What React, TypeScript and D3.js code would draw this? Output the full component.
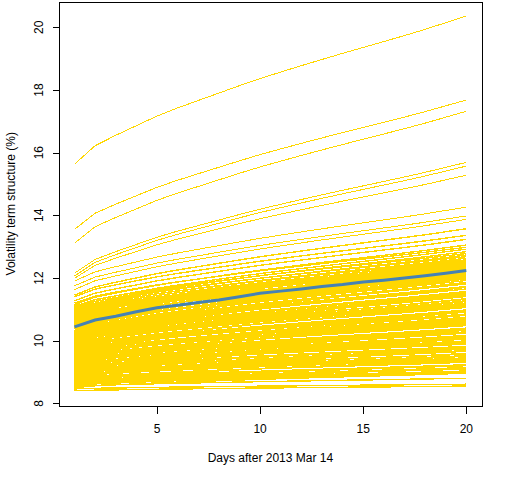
import React from "react";
import * as d3 from "d3";

// Days of the term structure
const days = [1, 2, 3, 4, 5, 6, 7, 8, 9, 10, 11, 12, 13, 14, 15, 16, 17, 18, 19, 20];

// Shape of the term structure (share of the day-1 -> day-20 move reached at each day)
const termProfile = [0, 0.125, 0.195, 0.26, 0.325, 0.38, 0.43, 0.48, 0.53, 0.578, 0.622, 0.665, 0.707, 0.748, 0.788, 0.828, 0.868, 0.91, 0.955, 1];

// Individual stock volatility on day 1 and day 20 (%)
const dayOneVol = [
  15.63, 13.55, 13.11, 12.15, 12.06, 11.99, 11.9, 11.75, 11.63, 11.45, 11.4, 11.27, 11.2, 11.15, 11.1, 11.07, 11.05, 11.02, 10.98, 10.97, 10.95, 10.92, 10.9, 10.87,
  10.85, 10.83, 10.81, 10.79, 10.77, 10.75, 10.73, 10.71, 10.69, 10.67, 10.65, 10.63, 10.61, 10.59, 10.57, 10.55, 10.53, 10.51, 10.49, 10.47, 10.45, 10.43, 10.41, 10.39, 10.37, 10.36,
  10.33, 10.31, 10.3, 10.28, 10.26, 10.25, 10.23, 10.21, 10.2, 10.18,
  10.16, 10.15, 10.13, 10.11, 10.1, 10.08, 10.06, 10.05, 10.03, 10.01,
  9.99, 9.98, 9.96, 9.94, 9.93, 9.91, 9.89, 9.88, 9.86, 9.84,
  9.83, 9.81, 9.79, 9.78, 9.76, 9.74, 9.73, 9.71, 9.69, 9.68,
  9.66, 9.64, 9.63, 9.61, 9.59, 9.58, 9.56, 9.54, 9.53, 9.51,
  9.49, 9.48, 9.46, 9.44, 9.43, 9.41, 9.39, 9.38, 9.36, 9.34,
  9.33, 9.31, 9.29, 9.28, 9.26, 9.24, 9.23, 9.21, 9.19, 9.18,
  9.16, 9.14, 9.13, 9.11, 9.09, 9.08, 9.06, 9.04, 9.03, 9.01,
  8.99, 8.98, 8.96, 8.94, 8.93, 8.91, 8.89, 8.88, 8.86, 8.84,
  8.83, 8.81, 8.79, 8.78, 8.76, 8.74, 8.73, 8.71, 8.69, 8.68,
  8.66, 8.65, 8.63, 8.62, 8.6,
  8.57, 8.54, 8.5, 8.46, 8.4,
];

const dayTwentyVol = [
  20.36, 17.68, 17.32, 15.69, 15.57, 15.28, 14.26, 13.98, 13.87, 13.57, 13.36, 13.23, 12.98, 13.05, 12.78, 12.92, 12.68, 12.84, 12.73, 12.58, 12.63, 12.52, 12.41, 12.35,
  12.48, 12.3, 12.56, 12.22, 12.44, 12.36, 12.18, 12.5, 12.27, 12.4, 12.14, 12.32, 12.21, 12.45, 12.1, 12.28, 12.17, 12.38, 12.07, 12.25, 12.13, 12.02, 12.2, 11.98, 12.1, 12.04,
  12.11, 11.92, 11.98, 11.81, 11.97, 11.86, 11.99, 11.73, 11.84, 11.72,
  11.83, 11.65, 11.7, 11.52, 11.7, 11.57, 11.7, 11.45, 11.54, 11.42,
  11.48, 11.32, 11.5, 11.32, 11.41, 11.16, 11.27, 11.34, 11.14, 11.2,
  11.25, 11.06, 11.1, 10.95, 11.1, 10.98, 11.12, 10.85, 10.95, 10.84,
  10.91, 10.72, 10.92, 10.74, 10.81, 10.59, 10.69, 10.75, 10.56, 10.62,
  10.66, 10.48, 10.53, 10.35, 10.52, 10.4, 10.52, 10.28, 10.37, 10.25,
  10.33, 10.14, 10.33, 10.16, 10.24, 9.99, 10.11, 10.17, 9.96, 10.05,
  10.08, 9.89, 9.95, 9.77, 9.93, 9.82, 9.95, 9.68, 9.79, 9.67,
  9.73, 9.57, 9.75, 9.57, 9.66, 9.41, 9.52, 9.59, 9.39, 9.45,
  9.5, 9.31, 9.35, 9.2, 9.35, 9.23, 9.37, 9.1, 9.2, 9.09,
  9.14, 9.03, 9.1, 8.99, 9.02,
  8.97, 8.8, 8.96, 8.61, 8.55,
];

// Average term structure (blue line)
const averageVol = [10.44, 10.66, 10.78, 10.92, 11.05, 11.13, 11.22, 11.3, 11.4, 11.51, 11.58, 11.65, 11.73, 11.79, 11.87, 11.93, 12.0, 12.07, 12.15, 12.24];

const xTicks = [5, 10, 15, 20];
const yTicks = [8, 10, 12, 14, 16, 18, 20];

const W = 512;
const H = 480;
const FONT = "'Liberation Sans', Arial, Helvetica, sans-serif";

export default function App() {
  const x = d3.scaleLinear().domain([0.24, 20.76]).range([58.8, 482]);
  const y = d3.scaleLinear().domain([8, 20]).range([403.3, 27.3]);
  const left = x(0.24);
  const right = x(20.76);
  const top = y(20.82);
  const bottom = y(7.92);

  const line = d3
    .line<number>()
    .x((_, i) => x(days[i]))
    .y((v) => y(v));

  const stockPaths = dayOneVol.map((s, k) => {
    const e = dayTwentyVol[k];
    const vals = termProfile.map((p) => s + (e - s) * p);
    return { d: line(vals) as string, isolated: s > 11.5 };
  });

  return (
    <svg
      width={W}
      height={H}
      style={{ position: "absolute", left: 0, top: 0, background: "#fff" }}
      fontFamily={FONT}
    >
      <rect x={0} y={0} width={W} height={H} fill="#fff" />
      <g fill="none" stroke="#FFD700" shapeRendering="crispEdges">
        {stockPaths.map((p, i) => (
          <path key={i} d={p.d} strokeWidth={p.isolated ? 1 : 1.4} />
        ))}
      </g>
      <path d={line(averageVol) as string} fill="none" stroke="#4682B4" strokeWidth={3} />

      <rect
        x={Math.round(left) + 0.5}
        y={Math.round(top) + 0.5}
        width={Math.round(right) - Math.round(left)}
        height={Math.round(bottom) - Math.round(top)}
        fill="none"
        stroke="#000"
        strokeWidth={1}
        shapeRendering="crispEdges"
      />

      {xTicks.map((t) => (
        <g key={t}>
          <line
            x1={Math.round(x(t)) + 0.5}
            x2={Math.round(x(t)) + 0.5}
            y1={Math.round(bottom) + 0.5}
            y2={Math.round(bottom) + 7.5}
            stroke="#000"
            shapeRendering="crispEdges"
          />
          <text x={x(t)} y={433} fontSize={12} textAnchor="middle" fill="#000">
            {t}
          </text>
        </g>
      ))}

      {yTicks.map((t) => (
        <g key={t}>
          <line
            x1={Math.round(left) + 0.5}
            x2={Math.round(left) - 6.5}
            y1={Math.round(y(t)) + 0.5}
            y2={Math.round(y(t)) + 0.5}
            stroke="#000"
            shapeRendering="crispEdges"
          />
          <text
            transform={`translate(43, ${y(t)}) rotate(-90)`}
            fontSize={12}
            textAnchor="middle"
            fill="#000"
          >
            {t}
          </text>
        </g>
      ))}

      <text x={(left + right) / 2} y={462} fontSize={12} textAnchor="middle" fill="#000">
        Days after 2013 Mar 14
      </text>
      <text
        transform={`translate(15, ${(top + bottom) / 2}) rotate(-90)`}
        fontSize={12}
        textAnchor="middle"
        fill="#000"
      >
        Volatility term structure (%)
      </text>
    </svg>
  );
}
